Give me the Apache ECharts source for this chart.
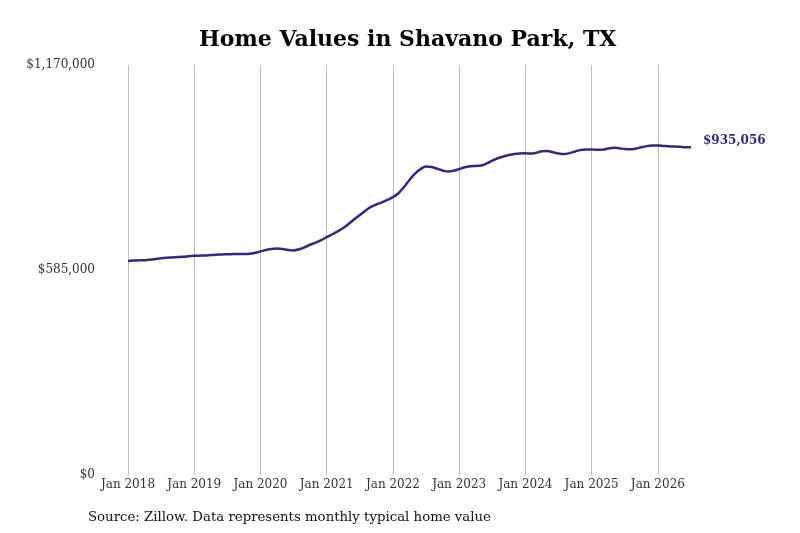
<!DOCTYPE html>
<html>
<head>
<meta charset="utf-8">
<script src="https://cdn.jsdelivr.net/npm/echarts@6/dist/echarts.min.js"></script>
<style>
html,body{margin:0;padding:0;background:#fff;}
#chart{width:800px;height:533px;}
</style>
</head>
<body>
<div id="chart"></div>
<script>
const months = [];
const monthNames = ['Jan','Feb','Mar','Apr','May','Jun','Jul','Aug','Sep','Oct','Nov','Dec'];
for (let y = 2018; y <= 2026; y++) {
  for (let m = 0; m < 12; m++) {
    if (y === 2026 && m > 6) break;
    months.push(monthNames[m] + ' ' + y);
  }
}
const values2018 = [611000, 612000, 612500, 613000, 614500, 616500, 618500, 620000, 621000, 622000, 623000, 624500];
const values2019 = [625500, 626000, 626500, 627500, 628500, 629500, 630000, 630500, 631000, 631000, 631500, 634000];
const values2020 = [638000, 642000, 645000, 646000, 645000, 642000, 641000, 644000, 650000, 657000, 663000, 670000];
const values2021 = [679000, 687000, 695000, 705000, 717000, 730000, 742000, 754000, 765000, 772000, 778000, 785000];
const values2022 = [793000, 804000, 822000, 842000, 860000, 873000, 880000, 879000, 874000, 869000, 866000, 868000];
const values2023 = [873000, 878000, 881000, 882000, 883000, 889000, 897000, 904000, 909000, 913000, 916000, 917500];
const values2024 = [918000, 917500, 920000, 924000, 924500, 921000, 917500, 916000, 918500, 923000, 927500, 929000];
const values2025 = [929000, 928000, 928500, 931500, 934000, 932500, 930000, 929500, 931500, 935500, 938500, 940000];
const values2026 = [940000, 939000, 938000, 937500, 936500, 935500, 935056];
const values = [].concat(values2018, values2019, values2020, values2021, values2022, values2023, values2024, values2025, values2026);
const yTicks = [0, 585000, 1170000];
const titleText = 'Home Values in Shavano Park, TX';
const sourceText = 'Source: Zillow. Data represents monthly typical home value';

const font = 'DejaVu Serif';
const lineColor = '#2f2a85';
const chart = echarts.init(document.getElementById('chart'), null, {renderer: 'canvas'});
chart.setOption({
  backgroundColor: '#fff',
  animation: false,
  title: [{
    text: titleText,
    left: 194,
    top: 24,
    textStyle: {fontFamily: font, fontWeight: 'bold', fontSize: 22, color: '#000'}
  }, {
    text: sourceText,
    left: 83,
    top: 506,
    textStyle: {fontFamily: font, fontWeight: 'normal', fontSize: 13.3, color: '#111'}
  }],
  grid: {left: 128, right: 109, top: 65, bottom: 58, containLabel: false},
  xAxis: {
    type: 'category',
    data: months,
    boundaryGap: false,
    axisLine: {show: false},
    axisTick: {show: false},
    axisLabel: {
      interval: (i) => i % 12 === 0,
      fontFamily: font, fontSize: 12, color: '#333', margin: 4
    },
    splitLine: {show: true, interval: (i) => i % 12 === 0, lineStyle: {color: '#bbbbbb', width: 1}}
  },
  yAxis: {
    type: 'value',
    min: yTicks[0],
    max: yTicks[2],
    interval: yTicks[1],
    axisLine: {show: false},
    axisTick: {show: false},
    splitLine: {show: false},
    axisLabel: {
      fontFamily: font, fontSize: 12, color: '#333', margin: 33,
      padding: [3, 0, 0, 0],
      formatter: (v) => '$' + v.toLocaleString('en-US')
    }
  },
  series: [{
    type: 'line',
    data: values,
    smooth: 0.4,
    showSymbol: false,
    lineStyle: {color: lineColor, width: 2.5},
    itemStyle: {color: lineColor},
    endLabel: {
      show: true,
      distance: 12,
      offset: [0, -6],
      formatter: (p) => '$' + p.value.toLocaleString('en-US'),
      fontFamily: font, fontWeight: 'bold', fontSize: 12, color: lineColor
    }
  }]
});
</script>
</body>
</html>
